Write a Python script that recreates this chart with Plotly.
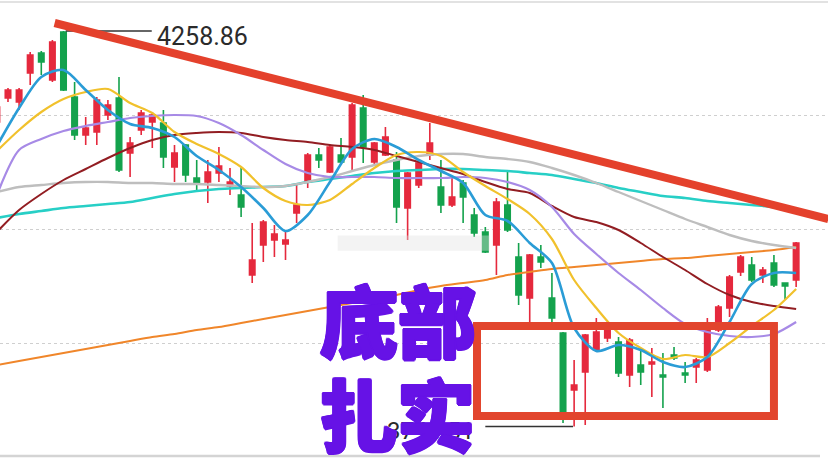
import plotly.graph_objects as go

# ---------------- data ----------------
candle_idx = list(range(73))
open_ = [4140.5, 4171.7, 4166.5, 4204.2, 4230.2, 4195.1, 4257.5, 4173.0, 4123.6, 4127.5,
         4149.6, 4171.7, 4100.2, 4130.1, 4140.5, 4139.2, 4082.0, 4110.6, 4067.7, 4062.5,
         4074.2, 4057.3, 4045.6, 3941.6, 3980.6, 3987.1, 3981.9, 4022.2, 4062.5, 4097.6,
         4075.5, 4097.6, 4095.0, 4158.7, 4088.5, 4097.6, 4091.1, 4028.7, 4058.6, 4097.6,
         4056.0, 4032.6, 4061.2, 4019.6, 3997.5, 3980.6, 4032.6, 3965.0, 3911.7, 3965.0,
         3911.7, 3866.2, 3792.1, 3815.5, 3844.1, 3859.7, 3854.5, 3811.6, 3824.6, 3825.9,
         3811.6, 3837.6, 3814.2, 3822.0, 3818.1, 3870.1, 3898.7, 3945.5, 3954.6, 3941.6,
         3957.2, 3931.2, 3935.1]
high = [4165.2, 4184.7, 4184.7, 4231.5, 4232.8, 4247.1, 4258.86, 4192.5, 4147.0, 4173.0,
        4169.1, 4199.0, 4121.0, 4156.1, 4153.5, 4156.1, 4110.6, 4111.9, 4091.1, 4091.1,
        4108.0, 4080.7, 4080.7, 4009.2, 4013.1, 4006.6, 3997.5, 4061.2, 4100.2, 4106.7,
        4110.6, 4119.7, 4165.2, 4175.6, 4114.5, 4134.0, 4101.5, 4075.5, 4091.1, 4139.2,
        4091.1, 4069.0, 4065.1, 4028.7, 4004.0, 4041.7, 4075.5, 3983.2, 3968.9, 3980.6,
        3944.2, 3867.5, 3831.1, 3864.9, 3885.7, 3876.6, 3861.0, 3859.7, 3844.1, 3846.7,
        3840.2, 3848.0, 3828.5, 3833.7, 3885.7, 3902.6, 3941.6, 3967.6, 3965.0, 3952.0,
        3967.6, 3931.2, 3984.5]
low = [4135.3, 4166.5, 4156.1, 4188.6, 4201.6, 4192.5, 4180.8, 4117.1, 4110.6, 4110.6,
       4143.1, 4075.5, 4069.0, 4123.6, 4106.7, 4080.7, 4062.5, 4062.5, 4049.5, 4035.2,
       4062.5, 4045.6, 4017.0, 3931.2, 3958.5, 3965.0, 3961.1, 4009.2, 4054.7, 4080.7,
       4074.2, 4084.6, 4078.1, 4087.2, 4084.6, 4096.3, 4009.2, 3987.1, 4054.7, 4091.1,
       4022.2, 4030.0, 4009.2, 3991.0, 3970.2, 3941.6, 3997.5, 3902.6, 3880.5, 3950.7,
       3880.5, 3749.2, 3744.51, 3746.6, 3841.5, 3854.5, 3809.0, 3796.0, 3798.6, 3783.0,
       3768.7, 3831.1, 3801.2, 3801.2, 3815.5, 3867.5, 3887.0, 3940.3, 3932.5, 3931.2,
       3926.0, 3909.1, 3926.0]
close = [4160.0, 4182.1, 4182.1, 4227.6, 4218.5, 4244.5, 4182.1, 4123.6, 4132.7, 4169.1,
         4162.6, 4078.1, 4113.2, 4152.2, 4149.6, 4095.0, 4100.2, 4071.6, 4061.2, 4075.5,
         4083.3, 4062.5, 4030.0, 3961.1, 4010.5, 3994.9, 3987.1, 4032.6, 4097.6, 4091.1,
         4108.0, 4088.5, 4162.6, 4108.0, 4113.2, 4121.0, 4030.0, 4074.2, 4087.2, 4113.2,
         4032.6, 4043.0, 4043.0, 3996.2, 3971.5, 4036.5, 4000.1, 3915.6, 3967.6, 3958.5,
         3885.7, 3763.5, 3798.6, 3863.6, 3867.5, 3870.1, 3814.2, 3857.1, 3815.5, 3828.5,
         3809.0, 3833.7, 3811.6, 3831.1, 3870.1, 3900.0, 3939.0, 3965.0, 3935.1, 3948.1,
         3928.6, 3927.3, 3983.2]

ma_idx = list(range(0, 73, 2))
ma_blue = [4109.3, 4158.7, 4199.0, 4208.1, 4182.1, 4156.1, 4137.9, 4132.7, 4121.0, 4096.3,
           4078.1, 4056.0, 4028.7, 3998.8, 4019.6, 4062.5, 4105.4, 4118.4, 4108.0, 4091.1,
           4076.8, 4061.2, 4019.6, 4011.8, 3983.2, 3957.2, 3872.7, 3842.8, 3850.6, 3844.1,
           3828.5, 3822.0, 3835.0, 3880.5, 3929.9, 3944.2, 3944.2]
ma_yellow = [4102.8, 4130.1, 4153.5, 4170.4, 4179.5, 4183.4, 4165.2, 4152.2, 4127.5, 4111.9,
             4098.9, 4082.0, 4054.7, 4037.8, 4032.6, 4039.1, 4059.9, 4080.7, 4097.6, 4101.5,
             4096.3, 4075.5, 4057.3, 4040.4, 4020.9, 3988.4, 3935.1, 3898.7, 3866.2, 3846.7,
             3832.4, 3837.6, 3835.0, 3853.2, 3875.3, 3896.1, 3923.4]
ma_purple = [4045.6, 4104.1, 4118.4, 4128.8, 4135.3, 4140.5, 4145.7, 4148.3, 4149.6, 4148.3,
             4139.2, 4123.6, 4104.1, 4085.9, 4074.2, 4069.0, 4069.0, 4069.0, 4067.7, 4067.7,
             4067.7, 4069.0, 4067.7, 4062.5, 4052.1, 4030.0, 3994.9, 3968.9, 3944.2, 3922.1,
             3898.7, 3877.9, 3867.5, 3862.3, 3861.0, 3864.9, 3880.5]
ma_darkred = [3997.5, 4026.1, 4046.9, 4065.1, 4079.4, 4093.7, 4106.7, 4117.1, 4123.6, 4126.2,
              4127.5, 4126.2, 4121.0, 4117.1, 4114.5, 4110.6, 4108.0, 4104.1, 4096.3, 4088.5,
              4080.7, 4072.9, 4062.5, 4053.4, 4048.2, 4031.3, 4017.0, 4010.5, 4000.1, 3983.2,
              3965.0, 3948.1, 3929.9, 3915.6, 3906.5, 3901.3, 3897.4]
ma_gray = [4049.5, 4056.0, 4058.6, 4061.2, 4062.5, 4062.5, 4061.2, 4061.2, 4059.9, 4059.9,
           4058.6, 4057.3, 4056.0, 4057.3, 4062.5, 4069.0, 4076.8, 4084.6, 4091.1, 4096.3,
           4098.9, 4098.9, 4095.0, 4092.4, 4088.5, 4080.7, 4071.6, 4061.2, 4049.5, 4037.8,
           4026.1, 4014.4, 4004.0, 3993.6, 3985.8, 3980.6, 3976.7]
ma_cyan = [4015.7, 4020.9, 4024.8, 4028.7, 4031.3, 4033.9, 4036.5, 4041.7, 4046.9, 4050.8,
           4053.4, 4054.7, 4056.0, 4057.3, 4062.5, 4066.4, 4070.3, 4074.2, 4076.8, 4078.1,
           4079.4, 4079.4, 4078.1, 4076.8, 4074.2, 4071.6, 4066.4, 4061.2, 4054.7, 4049.5,
           4044.3, 4041.7, 4037.8, 4035.2, 4032.6, 4030.0, 4026.1]
ma_orange = [3824.6, 3829.8, 3835.0, 3840.2, 3845.4, 3850.6, 3855.8, 3861.0, 3864.9, 3870.1,
             3874.0, 3879.2, 3884.4, 3889.6, 3894.8, 3900.0, 3905.2, 3910.4, 3915.6, 3922.1,
             3927.3, 3931.2, 3935.1, 3941.6, 3945.5, 3949.4, 3952.0, 3954.6, 3957.2, 3959.8,
             3962.4, 3963.7, 3966.3, 3968.9, 3971.5, 3974.1, 3978.0]

high_label = "4258.86"
low_label = "3744.51"
note_top = "底部"
note_bottom = "扎实"

# ---------------- figure ----------------
X_RANGE = [0.28, 74.87]
Y_RANGE = [3681.6, 4299.1]
NOTE_COLOR = "#6612E6"

fig = go.Figure()

fig.add_trace(go.Candlestick(
    x=candle_idx, open=open_, high=high, low=low, close=close,
    increasing=dict(line=dict(color="#E5293D", width=1.6), fillcolor="#E5293D"),
    decreasing=dict(line=dict(color="#14A24D", width=1.6), fillcolor="#14A24D"),
    whiskerwidth=0, hoverinfo="skip", showlegend=False,
))

ma_specs = [
    (ma_orange, "#F0862A", 2.0),
    (ma_cyan, "#27CFC6", 2.6),
    (ma_gray, "#BEBEBE", 2.4),
    (ma_darkred, "#921D22", 2.0),
    (ma_purple, "#A78AE6", 2.2),
    (ma_yellow, "#F1C12C", 2.2),
    (ma_blue, "#2A9CD6", 2.6),
]
for vals, col, w in ma_specs:
    fig.add_trace(go.Scatter(
        x=ma_idx, y=vals, mode="lines",
        line=dict(color=col, width=w, shape="spline", smoothing=0.8),
        hoverinfo="skip", showlegend=False,
    ))

shapes = []
# frame lines
shapes.append(dict(type="line", xref="paper", yref="paper", x0=0, x1=1,
                   y0=1 - 2 / 475, y1=1 - 2 / 475, line=dict(color="#E2E2E2", width=2)))
shapes.append(dict(type="line", xref="paper", yref="paper", x0=0, x1=820 / 828,
                   y0=1 - 456 / 475, y1=1 - 456 / 475, line=dict(color="#D4D4D4", width=2.5)))
# faint blurred watermark patch
shapes.append(dict(type="rect", xref="x", yref="y", x0=30.7, x1=44.4, y0=3973.0, y1=3993.0,
                   fillcolor="#E0E0E0", opacity=0.4, line=dict(width=0), layer="above"))
# leader lines for high/low
shapes.append(dict(type="line", xref="x", yref="y", x0=6.2, x1=13.95,
                   y0=high[6], y1=high[6], line=dict(color="#333333", width=1.5)))
shapes.append(dict(type="line", xref="x", yref="y", x0=44.0, x1=51.9,
                   y0=low[52], y1=low[52], line=dict(color="#333333", width=1.5)))
# descending trend line
shapes.append(dict(type="line", xref="x", yref="y", x0=5.2, y0=4269.2, x1=74.9, y1=4014.4,
                   line=dict(color="#E4412C", width=8), layer="above"))
# bottom box
shapes.append(dict(type="rect", xref="x", yref="y", x0=43.25, x1=70.0, y0=3758.3, y1=3875.3,
                   line=dict(color="#E2452D", width=8), layer="above"))

thick = ("1.5px 0 0 {c}, -1.5px 0 0 {c}, 0 1.5px 0 {c}, 0 -1.5px 0 {c}, "
         "1px 1px 0 {c}, -1px -1px 0 {c}, 1px -1px 0 {c}, -1px 1px 0 {c}").format(c=NOTE_COLOR)

annotations = [
    dict(x=14.24, y=4252.3, xref="x", yref="y", text=high_label, showarrow=False,
         xanchor="left", yanchor="middle",
         font=dict(family="Roboto", size=25, color="#2B2B2B")),
    dict(x=34.96, y=3738.8, xref="x", yref="y", text=low_label, showarrow=False,
         xanchor="left", yanchor="middle",
         font=dict(family="Roboto", size=24, color="#2B2B2B")),
    dict(x=36.1, y=3885.7, xref="x", yref="y", text=note_top, showarrow=False,
         xanchor="center", yanchor="middle",
         font=dict(family="Noto Sans CJK SC", size=78, color=NOTE_COLOR, weight=900,
                   shadow=thick)),
    dict(x=36.05, y=3763.5, xref="x", yref="y", text=note_bottom, showarrow=False,
         xanchor="center", yanchor="middle",
         font=dict(family="Noto Sans CJK SC", size=78, color=NOTE_COLOR, weight=900,
                   shadow=thick)),
]

fig.update_layout(
    width=828, height=475, margin=dict(l=0, r=0, t=0, b=0),
    paper_bgcolor="white", plot_bgcolor="white",
    shapes=shapes, annotations=annotations, showlegend=False,
    xaxis=dict(range=X_RANGE, visible=False, rangeslider=dict(visible=False), fixedrange=True),
    yaxis=dict(range=Y_RANGE, showticklabels=False, zeroline=False, ticks="",
               tickvals=[4149.6, 4001.4, 3853.2], showgrid=True, gridcolor="#CFCFCF",
               griddash="dot", gridwidth=1, fixedrange=True),
)

fig.write_html(
    "out.html",
    config={"displayModeBar": False},
    post_script="document.body.style.margin='0';document.body.style.overflow='hidden';",
)
